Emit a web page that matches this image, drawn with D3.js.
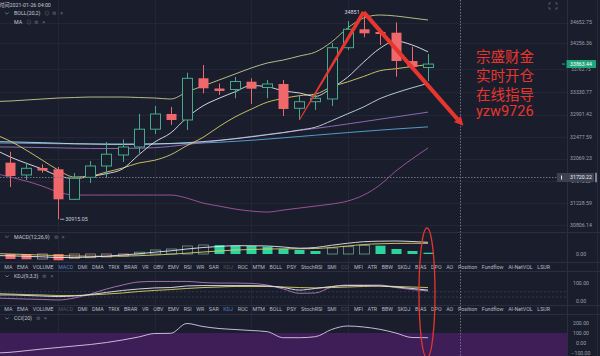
<!DOCTYPE html>
<html><head><meta charset="utf-8">
<script src="https://cdn.jsdelivr.net/npm/d3@7"></script>
<style>
html,body{margin:0;padding:0;background:#1a1e2c;overflow:hidden}
svg{display:block}
text{font-family:Roboto,"Noto Sans","Noto Sans CJK SC",sans-serif}
</style></head><body>
<svg id="c" width="600" height="356"></svg>
<script>
// ---------- DATA ----------
const candleIdx = [0,1,2,3,4,5,6,7,8,9,10,11,12,13,14,15,16,17,18,19,20,21,22,23,24,25,26];
const opens  = [31990,31756,31889,31864,31294,31712,31927,32136,32288,32626,32915,32801,33593,33399,33380,33528,33418,33485,33023,33148,33200,34174,34524,34472,34459,33921,33798];
const highs  = [32198,31990,31959,31908,31794,32022,32383,32430,32915,33067,33048,33699,33845,33494,33618,33593,33561,33561,33257,33276,34263,34681,34851,34543,34653,34193,34054];
const lows   = [31528,31661,31800,30915.05,31281,31604,31699,32003,32174,32535,32706,32611,33308,33276,33213,33105,33213,32877,32801,32991,33067,34130,34372,34225,33623,33750,33542];
const closes = [31737,31883,31841,31294,31693,31927,32151,32288,32626,32915,32801,33593,33403,33352,33532,33395,33485,33010,33148,33213,34174,34524,34448,34434,33921,33807,33863.44];
// line series: first value is the bar before the visible window (index -1)
const bollUp  = [33151,33161,33180,33199,33218,33228,33237,33237,33237,33228,33218,33199,33332,33446,33560,33674,33788,33883,33940,34016,34092,34282,34548,34738,34795,34776,34738,34700];
const bollMid = [32390,32385,32378,32370,32360,32350,32345,32340,32338,32340,32345,32355,32370,32390,32415,32445,32480,32520,32560,32610,32664,32786,32918,33049,33206,33317,33411,33497];
const bollDn  = [31793,31717,31641,31546,31432,31375,31375,31375,31375,31375,31375,31375,31318,31223,31166,31109,31071,31052,31090,31128,31166,31204,31261,31375,31565,31831,32059,32268];
const ma5     = [32250,32100,31980,31870,31740,31690,31728,31781,31871,32137,32381,32556,32845,33068,33213,33336,33455,33433,33355,33314,33250,33406,33614,33901,34159,34300,34227,34095];
const ma10    = [32534,32401,32230,32040,31850,31717,31736,31812,31888,31983,32036,32142,32313,32469,32675,32859,33006,33139,33211,33263,33293,33431,33524,33628,33736,33775,33816,33854];
const ma30    = [32290,32287,32283,32278,32272,32265,32260,32258,32260,32265,32275,32300,32335,32372,32410,32448,32488,32527,32565,32602,32640,32682,32725,32770,32815,32860,32905,32950];
const ma60    = [32365,32362,32358,32354,32350,32347,32345,32344,32344,32345,32347,32350,32356,32365,32378,32395,32415,32438,32462,32487,32512,32537,32562,32585,32608,32630,32650,32670];
const priceTicks = [34652.75,34256.36,33762.75,33330.77,32901.42,32477.59,32069.23,31646.23,31228.59,30806.14];
const lastPrice = 33863.44, crossPrice = 31720.22, crossIdx = 28;
const peakPrice = 34851, troughPrice = 30915.05;
// MACD (hist, DIF, DEA); DIF/DEA start at index -1
const macdHist = [-100,-106,-100,-126,-86,-74,-60,-40,36,80,100,160,180,178,166,160,146,100,80,60,120,146,170,166,100,60,26];
const macdDif  = [-30,-36,-46,-56,-70,-70,-60,-44,-20,4,36,64,100,130,150,166,165,160,140,116,130,175,215,246,256,260,250,234];
const macdDea  = [10,0,-10,-22,-32,-40,-44,-46,-42,-34,-20,-4,16,40,60,80,90,100,104,104,110,130,160,190,205,212,214,214];
// KDJ (start at index -1)
const kdjK = [32,32,29,26,23,26,34,46,57,65,71,73,82,84,84,84,84,82,73,59,68,79,84,84,82,76,68,59];
const kdjD = [40,37,34,32,29,29,32,37,43,51,57,62,68,73,76,79,79,79,76,73,71,73,76,79,82,79,76,73];
const kdjJ = [15,12,9,7,4,15,37,65,87,104,107,107,107,101,98,98,96,87,65,41,43,76,87,87,87,73,62,54];
// CCI (start at index -1)
const cci = [-100,-93,-77,-60,-45,-30,-15,5,30,60,95,97,195,165,145,135,125,113,53,53,63,135,170,160,137,100,55,53];
const kdjTicks = [100,0], cciTicks = [200,100,0,-100], macdTicks = [0];
const tabNames = ["MA","EMA","VOLUME","MACD","DMI","DMA","TRIX","BRAR","VR","OBV","EMV","RSI","WR","SAR","KDJ","ROC","MTM","BOLL","PSY","StochRSI","SMI","CCI","MFI","ATR","BBW","SKDJ","BIAS","DPO","AO","Position","Fundflow","AI-NetVOL","LSUR"];
const promoLines = ["宗盛财金","实时开仓","在线指导","yzw9726"];
const headerTime = "时间2021-01-26 04:00";

// ---------- SETUP ----------
const BG = '#1a1e2c', GRID = '#222738', SEP = '#2a2f3f';
const RED = '#f0686b', GREEN = '#45a98a', GREENF = '#2bd49c', ANN = '#e8352e';
const AX = '#9aa0ae';
const svg = d3.select('#c');
svg.append('rect').attr('width',600).attr('height',356).attr('fill',BG);

const plotR = 567;
const x = d3.scaleLinear().domain([0,26]).range([10,428]);
const y = d3.scaleLinear().domain([30806.14,34652.75]).range([225,22.5]);
const yM = d3.scaleLinear().domain([-200,200]).range([264,244]);
const yK = d3.scaleLinear().domain([0,100]).range([300.7,282.7]);
const yC = d3.scaleLinear().domain([-100,200]).range([353,323]);
const lineIdx = d3.range(-1,27);

const defs = svg.append('defs');
defs.append('clipPath').attr('id','cm').append('rect').attr('x',0).attr('y',0).attr('width',plotR).attr('height',232);
defs.append('clipPath').attr('id','cmacd').append('rect').attr('x',0).attr('y',240).attr('width',plotR).attr('height',22);
defs.append('clipPath').attr('id','ckdj').append('rect').attr('x',0).attr('y',272).attr('width',plotR).attr('height',33);
defs.append('clipPath').attr('id','ccci').append('rect').attr('x',0).attr('y',322).attr('width',plotR).attr('height',34);

// grid
const grid = svg.append('g');
priceTicks.forEach(v=>{
  grid.append('line').attr('x1',0).attr('x2',plotR).attr('y1',Math.round(y(v))+0.5).attr('y2',Math.round(y(v))+0.5).attr('stroke',GRID).attr('stroke-width',1);
});
[3,9,15,21].forEach(i=>{
  grid.append('line').attr('x1',Math.round(x(i))+0.5).attr('x2',Math.round(x(i))+0.5).attr('y1',0).attr('y2',356).attr('stroke',GRID);
});

// CCI shaded band
svg.append('rect').attr('x',0).attr('y',yC(100)).attr('width',plotR).attr('height',yC(-130)-yC(100)).attr('fill','#3f1d56');

// separators
[232.5,262.5,271.5,305.5,314.5].forEach(v=>{
  svg.append('line').attr('x1',0).attr('x2',600).attr('y1',v).attr('y2',v).attr('stroke',SEP);
});
svg.append('line').attr('x1',plotR+0.5).attr('x2',plotR+0.5).attr('y1',0).attr('y2',356).attr('stroke',SEP);
svg.append('line').attr('x1',597.5).attr('x2',597.5).attr('y1',0).attr('y2',356).attr('stroke','#252a3a');

// ---------- MAIN LINES ----------
const main = svg.append('g').attr('clip-path','url(#cm)');
const ln = (arr, sc) => d3.line().x((d,k)=>x(lineIdx[k])).y(d=>sc(d)).curve(d3.curveMonotoneX)(arr);
[[ma60,'#5aa8d8'],[ma30,'#9670c0'],[bollDn,'#a4589e'],[bollMid,'#c4dbe2'],[bollUp,'#c8c98e'],[ma10,'#d9cf6a'],[ma5,'#e6e6ee']].forEach(([a,c])=>{
  main.append('path').attr('d',ln(a,y)).attr('fill','none').attr('stroke',c).attr('stroke-width',0.9);
});

// candles
const cg = main.append('g');
candleIdx.forEach(i=>{
  const up = closes[i] >= opens[i];
  const col = up ? GREEN : RED;
  const cx = Math.round(x(i))+0.5;
  const top = y(Math.max(opens[i],closes[i])), bot = y(Math.min(opens[i],closes[i]));
  cg.append('line').attr('x1',cx).attr('x2',cx).attr('y1',y(highs[i])).attr('y2',y(lows[i])).attr('stroke',col).attr('stroke-width',1);
  cg.append('rect').attr('x',cx-5).attr('width',10).attr('y',top).attr('height',Math.max(1.2,bot-top))
    .attr('fill', up ? BG : RED).attr('stroke', up ? GREEN : 'none').attr('stroke-width',1);
});

// peak/trough labels
const iPeak = highs.indexOf(peakPrice), iTr = lows.indexOf(troughPrice);
svg.append('text').attr('x',x(iPeak)-4).attr('y',y(peakPrice)+2).attr('text-anchor','end').attr('font-size',5.4).attr('fill','#d4d8e0').text(String(peakPrice));
svg.append('line').attr('x1',x(iTr)+2).attr('x2',x(iTr)+6).attr('y1',y(troughPrice)).attr('y2',y(troughPrice)).attr('stroke','#c8ccd6').attr('stroke-width',0.8);
svg.append('text').attr('x',x(iTr)+7).attr('y',y(troughPrice)+2).attr('font-size',5.4).attr('fill','#c8ccd6').text(d3.format('.2f')(troughPrice));

// ---------- MACD ----------
const mg = svg.append('g').attr('clip-path','url(#cmacd)');
candleIdx.forEach(i=>{
  const v = macdHist[i], prev = i>0 ? macdHist[i-1] : Infinity;
  const hollow = v > prev;
  const col = v>=0 ? GREENF : RED;
  const cx = Math.round(x(i))+0.5;
  const t = Math.min(yM(v),yM(0)), h = Math.abs(yM(v)-yM(0));
  mg.append('rect').attr('x',cx-5).attr('width',10).attr('y',t).attr('height',Math.max(1,h))
    .attr('fill', hollow ? 'none' : col).attr('stroke', hollow ? (v>=0?'#6f9d90':'#b08c90') : 'none').attr('stroke-width',0.8);
});
mg.append('path').attr('d',ln(macdDea,yM)).attr('fill','none').attr('stroke','#d9cf6a').attr('stroke-width',0.9);
mg.append('path').attr('d',ln(macdDif,yM)).attr('fill','none').attr('stroke','#e6e6ee').attr('stroke-width',0.9);

// ---------- KDJ ----------
const kg = svg.append('g').attr('clip-path','url(#ckdj)');
[50,20].forEach(v=>kg.append('line').attr('x1',0).attr('x2',plotR).attr('y1',yK(v)).attr('y2',yK(v)).attr('stroke','#343a4c').attr('stroke-dasharray','2,2'));
kg.append('path').attr('d',ln(kdjJ,yK)).attr('fill','none').attr('stroke','#b07ab8').attr('stroke-width',0.9);
kg.append('path').attr('d',ln(kdjD,yK)).attr('fill','none').attr('stroke','#d9cf6a').attr('stroke-width',0.9);
kg.append('path').attr('d',ln(kdjK,yK)).attr('fill','none').attr('stroke','#e6e6ee').attr('stroke-width',0.9);

// ---------- CCI ----------
const ccg = svg.append('g').attr('clip-path','url(#ccci)');
ccg.append('path').attr('d',ln(cci,yC)).attr('fill','none').attr('stroke','#d8cce8').attr('stroke-width',0.9);

// ---------- AXIS LABELS ----------
const chY = Math.round(y(crossPrice))+0.5, chX = Math.round(x(crossIdx))+0.5;
const lpY = y(lastPrice);
const tagBoxes = [[lpY-4, lpY+4],[chY-4.5, chY+4.5]];
const axg = svg.append('g').attr('font-size',5.2).attr('fill',AX).attr('text-anchor','middle');
priceTicks.forEach((v,k)=>{
  const ty = y(v);
  const t = axg.append('text').attr('x',581).attr('y',ty+1.8).text(d3.format('.2f')(v));
  const hit = tagBoxes.find(([a,b])=> ty+2 > a && ty-2 < b);
  if(hit){ // partially hidden behind a price tag: show only the part below the tag
    defs.append('clipPath').attr('id','tc'+k).append('rect').attr('x',560).attr('y',hit[1]).attr('width',40).attr('height',8);
    t.attr('clip-path',`url(#tc${k})`).attr('font-size',4.6);
  }
});
macdTicks.forEach(v=>axg.append('text').attr('x',581).attr('y',yM(v)+1.8).text(d3.format('.2f')(v)));
kdjTicks.forEach(v=>axg.append('text').attr('x',581).attr('y',yK(v)+1.8).text(d3.format('.2f')(v)));
cciTicks.forEach(v=>axg.append('text').attr('x',581).attr('y',yC(v)+1.8).text(d3.format('.2f')(v)));

// crosshair
svg.append('line').attr('x1',0).attr('x2',plotR).attr('y1',chY).attr('y2',chY).attr('stroke','#6c7282').attr('stroke-dasharray','1.5,1.5');
svg.append('line').attr('x1',chX).attr('x2',chX).attr('y1',0).attr('y2',356).attr('stroke','#6c7282').attr('stroke-dasharray','1.5,1.5');
svg.append('rect').attr('x',557).attr('y',chY-4.5).attr('width',37).attr('height',9).attr('fill','#3c4152');
svg.append('rect').attr('x',561).attr('y',chY-2).attr('width',1).attr('height',4).attr('fill','#e8eaf0');
svg.append('text').attr('x',581).attr('y',chY+1.6).attr('text-anchor','middle').attr('font-size',5.2).attr('fill','#eef0f4').text(d3.format('.2f')(crossPrice));
svg.append('rect').attr('x',595).attr('y',chY-5).attr('width',2).attr('height',10).attr('rx',1).attr('fill','#7c8292');

// last price tag
svg.append('line').attr('x1',562).attr('x2',565).attr('y1',lpY).attr('y2',lpY).attr('stroke','#27b584');
svg.append('rect').attr('x',566.5).attr('y',lpY-4).attr('width',29.5).attr('height',8).attr('fill','#1fa67a');
svg.append('text').attr('x',581).attr('y',lpY+1.9).attr('text-anchor','middle').attr('font-size',5.2).attr('fill','#ffffff').text(d3.format('.2f')(lastPrice));

// ---------- HEADERS ----------
const hdr = svg.append('g').attr('font-size',5.3).attr('fill','#c4c8d2');
hdr.append('text').attr('x',-1).attr('y',6.5).text(headerTime);
function chevron(cx,cy){svg.append('path').attr('d',`M${cx-1.8},${cy-1} L${cx},${cy+0.8} L${cx+1.8},${cy-1}`).attr('fill','none').attr('stroke','#8a90a0').attr('stroke-width',0.7);}
function header(label,xx,yy,icons,chev){
  if(chev) chevron(7,yy-1.8);
  const t = hdr.append('text').attr('x',xx).attr('y',yy).text(label);
  let px = xx + t.node().getComputedTextLength() + 4;
  icons.forEach(ic=>{
    hdr.append('text').attr('x',px).attr('y',yy).attr('fill','#6b7080').attr('font-size',5.3).attr('font-family','DejaVu Sans').text(ic);
    px += 8;
  });
}
header('BOLL(20,2)',14,15.2,['⊙','⚙','×'],true);
header('MA',14,24,['⊙','⚙','×'],false);
header('MACD(12,26,9)',14,238.6,['⚙','×'],true);
header('KDJ(9,3,3)',14,278,['⚙','×'],true);
header('CCI(20)',14,320.2,['⚙','×'],true);

// expand icon top-right
svg.append('path').attr('d','M551,3 L549,3 L549,5 M555,3 L557,3 L557,5 M549,7 L549,9 L551,9 M557,7 L557,9 L555,9').attr('fill','none').attr('stroke','#6b7080').attr('stroke-width',0.7);

// ---------- TAB ROWS ----------
function tabRow(yy, active, dim){
  const g = svg.append('g').attr('font-size',5.3);
  const ts = tabNames.map(n=>g.append('text').attr('y',yy).text(n)
     .attr('fill', n===active ? '#4f7fc8' : (dim.includes(n) ? '#4f5566' : '#b4b8c4')));
  const widths = ts.map(t=>t.node().getComputedTextLength());
  const total = d3.sum(widths);
  const x0 = 4.3, x1 = 550;
  const gap = (x1-x0-total)/(tabNames.length-1);
  let px = x0;
  ts.forEach((t,k)=>{t.attr('x',px); px += widths[k]+gap;});
}
tabRow(269.2,'MACD',['KDJ','CCI']);
tabRow(311.3,'KDJ',['MACD','CCI']);

// ---------- ANNOTATIONS ----------
const annPts = [[18,32801],[22,peakPrice],[28.2,32690]];
const P = annPts.map(([i,v])=>[x(i),y(v)]);
function wedge(a,b,w0,w1){
  const dx=b[0]-a[0], dy=b[1]-a[1], L=Math.hypot(dx,dy), nx=-dy/L, ny=dx/L;
  return `M${a[0]+nx*w0/2},${a[1]+ny*w0/2} L${b[0]+nx*w1/2},${b[1]+ny*w1/2} L${b[0]-nx*w1/2},${b[1]-ny*w1/2} L${a[0]-nx*w0/2},${a[1]-ny*w0/2} Z`;
}
svg.append('path').attr('d',wedge(P[0],P[1],1,4)).attr('fill',ANN);
{
  const a=P[1], b=P[2];
  const dx=b[0]-a[0], dy=b[1]-a[1], L=Math.hypot(dx,dy), ux=dx/L, uy=dy/L, nx=-uy, ny=ux;
  const hl=9, hw=4.5;
  const base=[b[0]-ux*hl, b[1]-uy*hl];
  svg.append('path').attr('d',wedge(a,base,4,4)).attr('fill',ANN);
  svg.append('path').attr('d',`M${b[0]},${b[1]} L${base[0]+nx*hw},${base[1]+ny*hw} L${base[0]-nx*hw},${base[1]-ny*hw} Z`).attr('fill',ANN);
}
svg.append('ellipse').attr('cx',x(26)-1).attr('cy',293).attr('rx',8).attr('ry',65).attr('fill','none').attr('stroke',ANN).attr('stroke-width',1.3);

const promo = svg.append('g').attr('font-size',14.5).attr('fill',ANN).attr('font-family','"Noto Sans CJK SC",sans-serif');
[61.5,81,99.5,116].forEach((b,k)=>promo.append('text').attr('x',476).attr('y',b).text(promoLines[k]));
</script>
</body></html>
